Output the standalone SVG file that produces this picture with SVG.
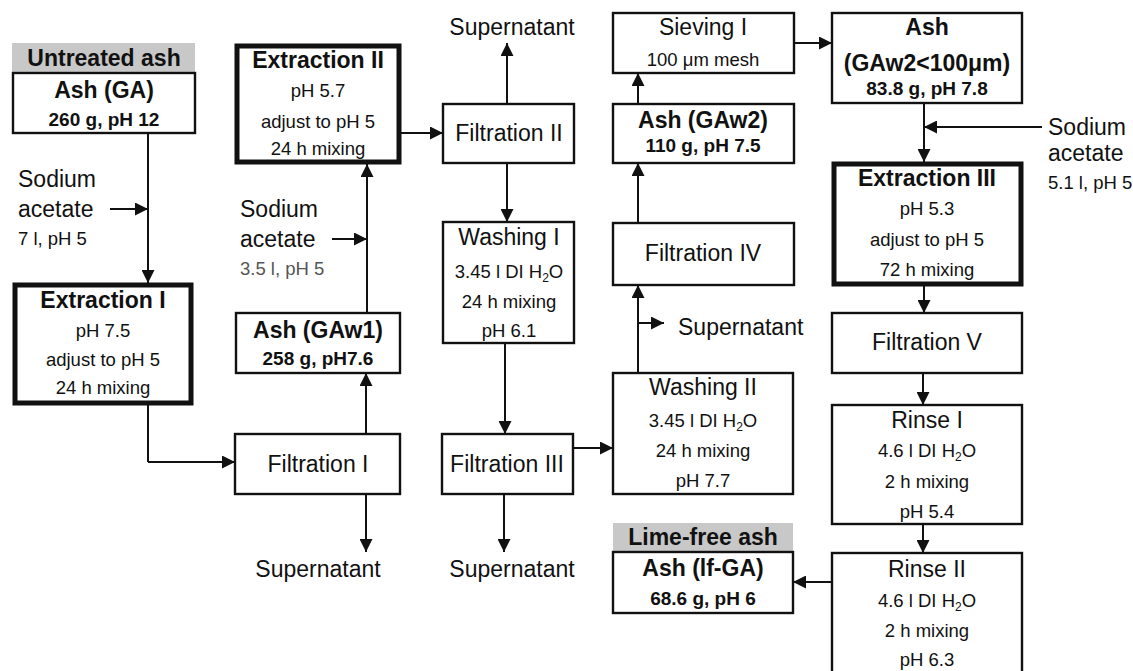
<svg xmlns="http://www.w3.org/2000/svg" width="1133" height="671" viewBox="0 0 1133 671">
<style>
text{font-family:"Liberation Sans",Arial,sans-serif;fill:#111;text-anchor:middle}
.t{font-size:23px}
.tb{font-size:23px;font-weight:bold}
.s{font-size:18.5px}
.sb{font-size:19px;font-weight:bold}
.l{text-anchor:start}
.g{fill:#555}
.box{fill:#fff;stroke:#111;stroke-width:2.4}
.thick{fill:#fff;stroke:#111;stroke-width:5}
.hdr{fill:#c8c8c8;stroke:none}
.c{fill:none;stroke:#111;stroke-width:2;marker-end:url(#ah)}
.n{fill:none;stroke:#111;stroke-width:2}
</style>
<defs>
<marker id="ah" viewBox="0 0 12 12" refX="12" refY="6" markerWidth="13" markerHeight="13" markerUnits="userSpaceOnUse" orient="auto">
<path d="M0,0 L12,6 L0,12 z" fill="#111"/>
</marker>
</defs>
<rect width="1133" height="671" fill="#fff"/>

<g id="connectors">
<path class="c" d="M148,133 V283"/>
<path class="c" d="M110,209 H148"/>
<path class="n" d="M148,405 V462"/>
<path class="c" d="M148,462 H235"/>
<path class="c" d="M366,434 V373"/>
<path class="c" d="M366,494 V552"/>
<path class="c" d="M367,313 V164"/>
<path class="c" d="M332,239 H367"/>
<path class="c" d="M401,133 H443"/>
<path class="c" d="M507,104 V43"/>
<path class="c" d="M507,163 V222"/>
<path class="c" d="M505,343 V434"/>
<path class="c" d="M504,494 V552"/>
<path class="c" d="M573,448 H613"/>
<path class="c" d="M638,373 V285"/>
<path class="c" d="M638,323 H664"/>
<path class="c" d="M638,223 V163"/>
<path class="c" d="M638,104 V73"/>
<path class="c" d="M794,43 H832"/>
<path class="c" d="M924,103 V162"/>
<path class="c" d="M1042,127 H924"/>
<path class="c" d="M924,286 V313"/>
<path class="c" d="M923,373 V405"/>
<path class="c" d="M923,524 V553"/>
<path class="c" d="M832,582 H793"/>
</g>

<g id="untreated-ash">
<rect class="hdr" x="12" y="43" width="183" height="30"/>
<text class="tb" x="104" y="66">Untreated ash</text>
</g>
<g id="ash-ga">
<rect class="box" x="13" y="73" width="182" height="60"/>
<text class="tb" x="104" y="98">Ash (GA)</text>
<text class="sb" x="104" y="126">260 g, pH 12</text>
</g>
<g id="sodium-acetate-1">
<text class="t l" x="18" y="187">Sodium</text>
<text class="t l" x="18" y="217">acetate</text>
<text class="s l" x="18" y="245">7 l, pH 5</text>
</g>
<g id="extraction-1">
<rect class="thick" x="15" y="285" width="176" height="118"/>
<text class="tb" x="103" y="308">Extraction I</text>
<text class="s" x="103" y="337">pH 7.5</text>
<text class="s" x="103" y="366">adjust to pH 5</text>
<text class="s" x="103" y="394">24 h mixing</text>
</g>

<g id="extraction-2">
<rect class="thick" x="237" y="46" width="162" height="116"/>
<text class="tb" x="318" y="68">Extraction II</text>
<text class="s" x="318" y="97">pH 5.7</text>
<text class="s" x="318" y="128">adjust to pH 5</text>
<text class="s" x="318" y="155">24 h mixing</text>
</g>
<g id="sodium-acetate-2">
<text class="t l" x="240" y="217">Sodium</text>
<text class="t l" x="240" y="247">acetate</text>
<text class="s l g" x="240" y="275">3.5 l, pH 5</text>
</g>
<g id="ash-gaw1">
<rect class="box" x="236" y="313" width="164" height="60"/>
<text class="tb" x="318" y="338">Ash (GAw1)</text>
<text class="sb" x="318" y="365">258 g, pH7.6</text>
</g>
<g id="filtration-1">
<rect class="box" x="235" y="434" width="165" height="60"/>
<text class="t" x="318" y="472">Filtration I</text>
</g>
<g id="supernatant-1">
<text class="t" x="318" y="577">Supernatant</text>
</g>

<g id="supernatant-2">
<text class="t" x="512" y="35">Supernatant</text>
</g>
<g id="filtration-2">
<rect class="box" x="443" y="104" width="131" height="59"/>
<text class="t" x="509" y="141">Filtration II</text>
</g>
<g id="washing-1">
<rect class="box" x="443" y="222" width="131" height="121"/>
<text class="t" x="509" y="245">Washing I</text>
<text class="s" x="509" y="278">3.45 l DI H<tspan font-size="12" dy="4">2</tspan><tspan dy="-4">O</tspan></text>
<text class="s" x="509" y="308">24 h mixing</text>
<text class="s" x="509" y="337">pH 6.1</text>
</g>
<g id="filtration-3">
<rect class="box" x="442" y="434" width="131" height="60"/>
<text class="t" x="507" y="472">Filtration III</text>
</g>
<g id="supernatant-3">
<text class="t" x="512" y="577">Supernatant</text>
</g>

<g id="sieving-1">
<rect class="box" x="613" y="13" width="181" height="60"/>
<text class="t" x="703" y="35">Sieving I</text>
<text class="s" x="703" y="66">100 μm mesh</text>
</g>
<g id="ash-gaw2">
<rect class="box" x="613" y="104" width="181" height="59"/>
<text class="tb" x="703" y="128">Ash (GAw2)</text>
<text class="sb" x="703" y="152">110 g, pH 7.5</text>
</g>
<g id="filtration-4">
<rect class="box" x="613" y="223" width="181" height="62"/>
<text class="t" x="703" y="261">Filtration IV</text>
</g>
<g id="supernatant-4">
<text class="t l" x="678" y="335">Supernatant</text>
</g>
<g id="washing-2">
<rect class="box" x="613" y="373" width="180" height="121"/>
<text class="t" x="703" y="395">Washing II</text>
<text class="s" x="703" y="427">3.45 l DI H<tspan font-size="12" dy="4">2</tspan><tspan dy="-4">O</tspan></text>
<text class="s" x="703" y="457">24 h mixing</text>
<text class="s" x="703" y="487">pH 7.7</text>
</g>
<g id="lime-free-ash">
<rect class="hdr" x="613" y="523" width="180" height="29"/>
<text class="tb" x="703" y="545">Lime-free ash</text>
</g>
<g id="ash-lf-ga">
<rect class="box" x="613" y="552" width="180" height="61"/>
<text class="tb" x="703" y="576">Ash (lf-GA)</text>
<text class="sb" x="703" y="605">68.6 g, pH 6</text>
</g>

<g id="ash-gaw2-100">
<rect class="box" x="832" y="13" width="190" height="90"/>
<text class="tb" x="927" y="35">Ash</text>
<text class="tb" x="927" y="71">(GAw2&lt;100μm)</text>
<text class="sb" x="927" y="95">83.8 g, pH 7.8</text>
</g>
<g id="sodium-acetate-3">
<text class="t l" x="1048" y="135">Sodium</text>
<text class="t l" x="1048" y="161">acetate</text>
<text class="s l" x="1048" y="189">5.1 l, pH 5</text>
</g>
<g id="extraction-3">
<rect class="thick" x="834" y="164" width="187" height="120"/>
<text class="tb" x="927" y="186">Extraction III</text>
<text class="s" x="927" y="215">pH 5.3</text>
<text class="s" x="927" y="246">adjust to pH 5</text>
<text class="s" x="927" y="276">72 h mixing</text>
</g>
<g id="filtration-5">
<rect class="box" x="832" y="313" width="190" height="60"/>
<text class="t" x="927" y="350">Filtration V</text>
</g>
<g id="rinse-1">
<rect class="box" x="832" y="405" width="190" height="119"/>
<text class="t" x="927" y="428">Rinse I</text>
<text class="s" x="927" y="457">4.6 l DI H<tspan font-size="12" dy="4">2</tspan><tspan dy="-4">O</tspan></text>
<text class="s" x="927" y="488">2 h mixing</text>
<text class="s" x="927" y="518">pH 5.4</text>
</g>
<g id="rinse-2">
<rect class="box" x="832" y="553" width="190" height="130"/>
<text class="t" x="927" y="577">Rinse II</text>
<text class="s" x="927" y="607">4.6 l DI H<tspan font-size="12" dy="4">2</tspan><tspan dy="-4">O</tspan></text>
<text class="s" x="927" y="637">2 h mixing</text>
<text class="s" x="927" y="666">pH 6.3</text>
</g>
</svg>
